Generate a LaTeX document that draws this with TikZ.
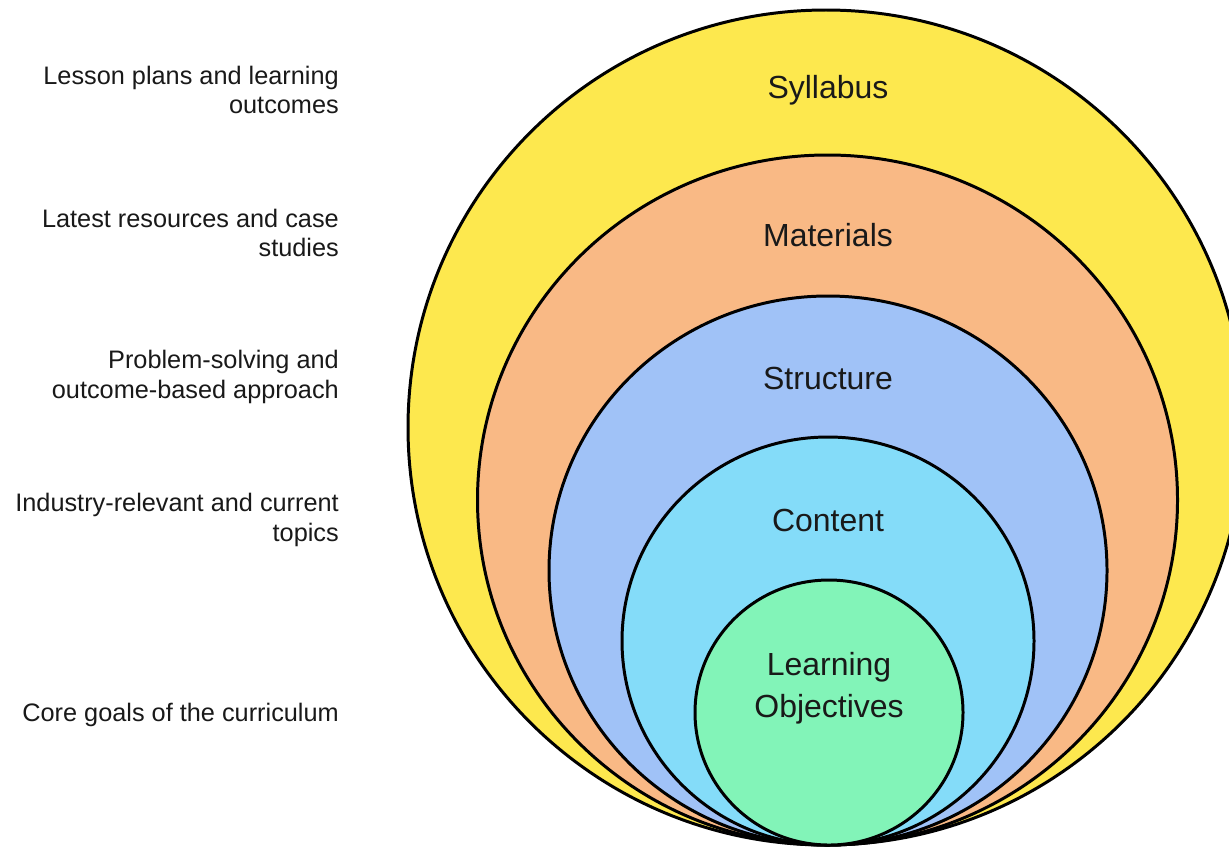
\documentclass[tikz,border=0pt]{standalone}
\usepackage{fontspec}
\setmainfont{Liberation Sans}
\usetikzlibrary{positioning}

\definecolor{sylfill}{HTML}{FDE84E}
\definecolor{matfill}{HTML}{F9B985}
\definecolor{strfill}{HTML}{A0C2F7}
\definecolor{confill}{HTML}{84DCF9}
\definecolor{objfill}{HTML}{82F4B8}

\tikzstyle{ring} = [draw=black, line width=1.7pt]
\tikzstyle{ringlabel} = [font=\fontsize{18.2}{24}\selectfont, text=black!90, align=center]
\tikzstyle{note} = [font=\fontsize{14.4}{17}\selectfont, text=black!90, align=right, anchor=east]

\begin{document}
\begin{tikzpicture}[x=0.02cm, y=-0.02cm]
  \clip (0,0) rectangle (1229,849);
  \fill[white] (0,0) rectangle (1229,849);
  % nested rings, all touching at the bottom
  \filldraw[ring, fill=sylfill] (826,427.5) ellipse [x radius=418, y radius=417.5];
  \filldraw[ring, fill=matfill] (827.5,500) ellipse [x radius=350, y radius=345];
  \filldraw[ring, fill=strfill] (828,570.5) ellipse [x radius=279, y radius=274.5];
  \filldraw[ring, fill=confill] (828,641) ellipse [x radius=206, y radius=204];
  \filldraw[ring, fill=objfill] (829,712.5) ellipse [x radius=134, y radius=132.5];
  % ring labels
  \node (syl) [ringlabel] at (828,90) {Syllabus};
  \node (mat) [ringlabel] at (828,235) {Materials};
  \node (str) [ringlabel] at (828,378) {Structure};
  \node (con) [ringlabel] at (828,520) {Content};
  \node (obj) [ringlabel] at (829,688) {Learning\\Objectives};
  % side notes
  \node (nsyl) [note] at (345,90) {Lesson plans and learning\\outcomes};
  \node (nmat) [note] at (345,233) {Latest resources and case\\studies};
  \node (nstr) [note] at (345,377) {Problem-solving and\\outcome-based approach};
  \node (ncon) [note] at (345,520) {Industry-relevant and current\\topics};
  \node (nobj) [note] at (345,715) {Core goals of the curriculum};
\end{tikzpicture}
\end{document}
